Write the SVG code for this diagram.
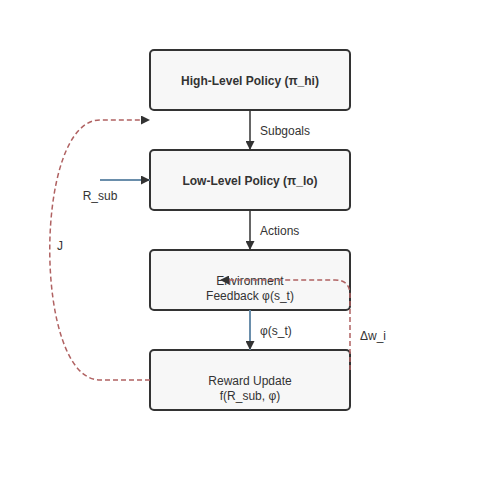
<svg xmlns="http://www.w3.org/2000/svg" width="500" height="500" viewBox="0 0 500 500">
<defs>
<marker id="arr" viewBox="0 0 10 10" refX="10" refY="5" markerWidth="9" markerHeight="9" markerUnits="userSpaceOnUse" orient="auto"><path d="M0,0 L10,5 L0,10 z" fill="#333"/></marker>
<style>
.box{fill:#f7f7f7;stroke:#333;stroke-width:2}
.t{font-family:"Liberation Sans",Arial,sans-serif;font-size:12px;fill:#333}
.b{font-weight:bold}
.m{text-anchor:middle}
.dark{stroke:#333;stroke-width:1.5;fill:none}
.blue{stroke:#6a8eab;stroke-width:2;fill:none}
.red{stroke:#b06262;stroke-width:1.5;fill:none;stroke-dasharray:5,3}
</style>
</defs>
<rect width="500" height="500" fill="#fff"/>
<g id="high"><rect class="box" x="150" y="50" width="200" height="60" rx="4"/><text class="t b m" x="250" y="85">High-Level Policy (π_hi)</text></g>
<g id="low"><rect class="box" x="150" y="150" width="200" height="60" rx="4"/><text class="t b m" x="250" y="185">Low-Level Policy (π_lo)</text></g>
<g id="env"><rect class="box" x="150" y="250" width="200" height="60" rx="4"/><text class="t m" x="250" y="285">Environment</text><text class="t m" x="250" y="300">Feedback φ(s_t)</text></g>
<g id="reward"><rect class="box" x="150" y="350" width="200" height="60" rx="4"/><text class="t m" x="250" y="385">Reward Update</text><text class="t m" x="250" y="400">f(R_sub, φ)</text></g>
<g id="connectors">
<line class="dark" x1="250" y1="110" x2="250" y2="150" marker-end="url(#arr)"/>
<line class="dark" x1="250" y1="210" x2="250" y2="250" marker-end="url(#arr)"/>
<line class="blue" x1="250" y1="310" x2="250" y2="350" marker-end="url(#arr)"/>
<line class="blue" x1="100" y1="180" x2="150" y2="180" marker-end="url(#arr)"/>
<path class="red" d="M150,380 L100,380 C33,380 33,120 100,120 L150,120" marker-end="url(#arr)"/>
<path class="red" d="M350,370 L350,295 Q350,280 335,280 L220,280" marker-end="url(#arr)"/>
<text class="t" x="260" y="135">Subgoals</text>
<text class="t" x="260" y="235">Actions</text>
<text class="t" x="260" y="335">φ(s_t)</text>
<text class="t m" x="100" y="200">R_sub</text>
<text class="t" x="57" y="250">J</text>
<text class="t" x="360" y="340">Δw_i</text>
</g>
</svg>
